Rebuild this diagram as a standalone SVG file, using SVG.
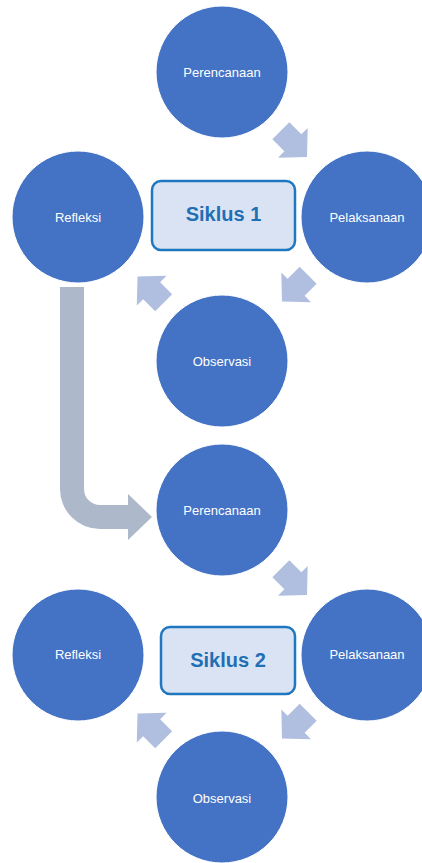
<svg xmlns="http://www.w3.org/2000/svg" width="422" height="863" viewBox="0 0 422 863">
<style>
.c{fill:#4472c4;stroke:#ffffff;stroke-width:1}
.t{fill:#ffffff;font-family:"Liberation Sans",Arial,sans-serif;font-size:13px;text-anchor:middle;dominant-baseline:central}
.box{fill:#dae3f3;stroke:#1f77c0;stroke-width:2.5}
.bt{fill:#1f6fb5;font-family:"Liberation Sans",Arial,sans-serif;font-size:20px;font-weight:bold;text-anchor:middle;dominant-baseline:central}
.sa{fill:#b0bfe0}
.ba{fill:#adb9ca}
</style>
<defs>
<path id="arr" d="M0,0 L-20,-21 L-20,-12 L-37,-12 L-37,12 L-20,12 L-20,21 Z"/>
</defs>
<rect width="422" height="863" fill="#ffffff"/>
<g id="connectors">
<use href="#arr" class="sa" transform="translate(307,157) rotate(45)"/>
<use href="#arr" class="sa" transform="translate(282,301.5) rotate(135)"/>
<use href="#arr" class="sa" transform="translate(137.5,276.5) rotate(225)"/>
<use href="#arr" class="sa" transform="translate(307,595) rotate(45)"/>
<use href="#arr" class="sa" transform="translate(282,738.5) rotate(135)"/>
<use href="#arr" class="sa" transform="translate(137.5,713.5) rotate(225)"/>
<path class="ba" d="M60,287 L84,287 L84,489 A16,16 0 0 0 100,505 L128,505 L128,494 L152,517 L128,540 L128,529 L100,529 A40,40 0 0 1 60,489 Z"/>
</g>
<g id="perencanaan1"><circle class="c" cx="222" cy="72" r="66"/><text class="t" x="222" y="72">Perencanaan</text></g>
<g id="pelaksanaan1"><circle class="c" cx="367" cy="217" r="66"/><text class="t" x="367" y="217">Pelaksanaan</text></g>
<g id="observasi1"><circle class="c" cx="222" cy="361" r="66"/><text class="t" x="222" y="361">Observasi</text></g>
<g id="refleksi1"><circle class="c" cx="78" cy="217" r="66"/><text class="t" x="78" y="217">Refleksi</text></g>
<g id="siklus1"><rect class="box" x="152" y="181" width="143" height="69" rx="9"/><text class="bt" x="223.5" y="214">Siklus 1</text></g>
<g id="perencanaan2"><circle class="c" cx="222" cy="510" r="66"/><text class="t" x="222" y="510">Perencanaan</text></g>
<g id="pelaksanaan2"><circle class="c" cx="367" cy="655" r="66"/><text class="t" x="367" y="654">Pelaksanaan</text></g>
<g id="observasi2"><circle class="c" cx="222" cy="797" r="66"/><text class="t" x="222" y="798">Observasi</text></g>
<g id="refleksi2"><circle class="c" cx="78" cy="655" r="66"/><text class="t" x="78" y="654">Refleksi</text></g>
<g id="siklus2"><rect class="box" x="161" y="627" width="134" height="67" rx="9"/><text class="bt" x="228" y="660">Siklus 2</text></g>
</svg>
